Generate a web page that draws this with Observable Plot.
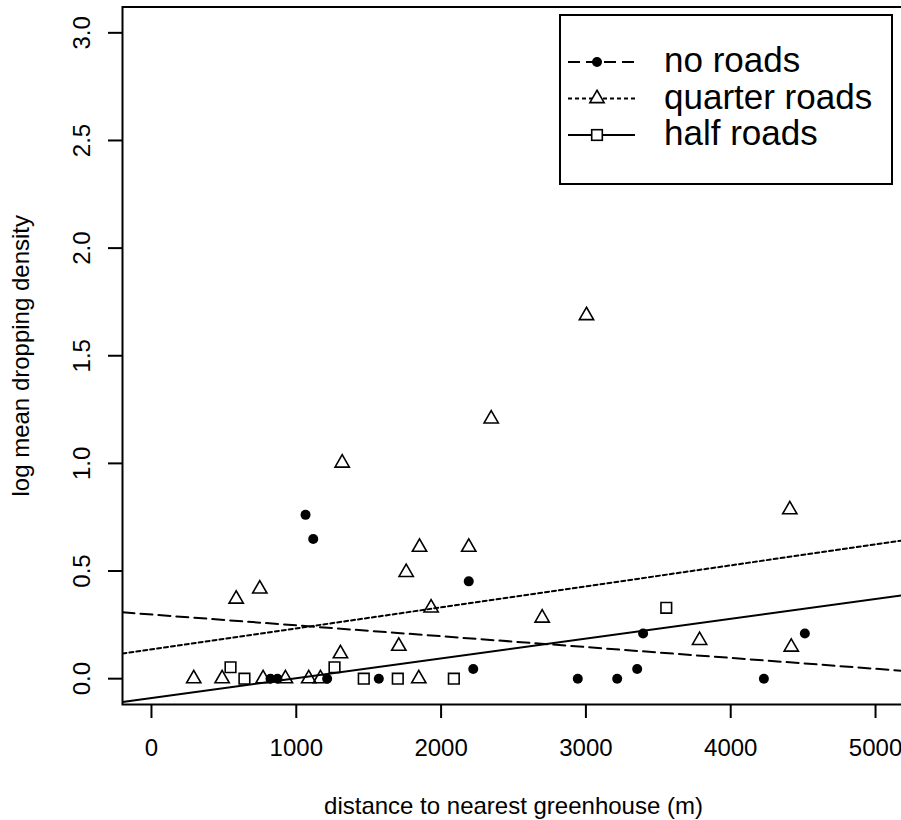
<!DOCTYPE html>
<html><head><meta charset="utf-8">
<script src="https://cdn.jsdelivr.net/npm/d3@7"></script>
<script src="https://cdn.jsdelivr.net/npm/@observablehq/plot@0.6"></script>
<style>
html,body{margin:0;padding:0;background:#fff;overflow:hidden;width:901px;height:820px;}
#wrap{position:relative;width:901px;height:820px;overflow:hidden;}
#wrap svg{max-width:none !important;}
#legend{position:absolute;left:0;top:0;pointer-events:none;}
</style></head><body><div id="wrap"></div>
<script>
// ---- data ----
const seriesNames = ["no roads", "quarter roads", "half roads"];

const noRoadsX = [822, 870, 1064, 1117, 1213, 1570, 2191, 2222, 2944, 3216, 3354, 3395, 4229, 4512];
const noRoadsY = [0, 0, 0.761, 0.649, 0, 0, 0.452, 0.045, 0, 0, 0.045, 0.21, 0, 0.21];

const quarterX = [292, 488, 585, 748, 771, 925, 1086, 1167, 1305, 1317, 1708, 1759, 1846, 1851, 1931, 2191, 2346, 2698, 3004, 3785, 4408, 4418];
const quarterY = [0, 0, 0.370, 0.417, 0, 0, 0, 0, 0.116, 1.002, 0.151, 0.494, 0, 0.611, 0.329, 0.611, 1.207, 0.282, 1.687, 0.178, 0.785, 0.147];

const halfX = [546, 642, 1264, 1466, 1701, 2088, 3555];
const halfY = [0.053, 0, 0.053, 0, 0, 0, 0.329];

// fitted straight lines (intercept, slope) for each series
const fitIntercepts = [0.298, 0.136, -0.09];
const fitSlopes = [-0.0000504, 0.0000976, 0.000092];

const xDomain = [-200, 5200];
const yDomain = [-0.12, 3.12];
const xTicks = [0, 1000, 2000, 3000, 4000, 5000];
const xTickLabels = ["0", "1000", "2000", "3000", "4000", "5000"];
const yTicks = [0, 0.5, 1, 1.5, 2, 2.5, 3];
const yTickLabels = ["0.0", "0.5", "1.0", "1.5", "2.0", "2.5", "3.0"];
const xTitle = "distance to nearest greenhouse (m)";
const yTitle = "log mean dropping density";

// ---- build tables ----
const noRoads = noRoadsX.map((x, i) => ({x, y: noRoadsY[i]}));
const quarter = quarterX.map((x, i) => ({x, y: quarterY[i]}));
const half = halfX.map((x, i) => ({x, y: halfY[i]}));
const fitRows = seriesNames.flatMap((s, i) => xDomain.map(x => ({series: s, x, y: fitIntercepts[i] + fitSlopes[i] * x})));
const dashes = {"no roads": "12,6", "quarter roads": "4,3", "half roads": null};

const FONT = "Liberation Sans, Arial, Helvetica, sans-serif";

const chart = Plot.plot({
  width: 906,
  height: 820,
  marginLeft: 122,
  marginRight: 2,
  marginTop: 6.5,
  marginBottom: 116,
  style: {fontFamily: FONT, fontSize: "24px", color: "#000", background: "#fff", maxWidth: "none"},
  x: {domain: xDomain},
  y: {domain: yDomain},
  marks: [
    ...seriesNames.map(s => Plot.line(fitRows.filter(d => d.series === s), {
      x: "x", y: "y", stroke: "#000", strokeWidth: 2,
      strokeDasharray: dashes[s] || undefined, clip: true
    })),
    Plot.dot(noRoads, {x: "x", y: "y", r: 5, fill: "#000", stroke: "none"}),
    Plot.dot(quarter, {x: "x", y: "y", r: 5.3, symbol: "triangle", fill: "none", stroke: "#000", strokeWidth: 1.6}),
    Plot.dot(half, {x: "x", y: "y", r: 6, symbol: "square", fill: "none", stroke: "#000", strokeWidth: 1.6}),
    Plot.frame({stroke: "#000", strokeWidth: 2}),
    Plot.axisX({
      ticks: xTicks, tickSize: 14, tickPadding: 20, strokeWidth: 2, fontSize: 24,
      tickFormat: d => xTickLabels[xTicks.indexOf(d)],
      label: xTitle, labelAnchor: "center", labelOffset: 109, labelArrow: "none"
    }),
    Plot.axisY({
      ticks: yTicks, tickSize: 14, tickPadding: 19, tickRotate: -90, strokeWidth: 2, fontSize: 24,
      tickFormat: d => yTickLabels[yTicks.indexOf(d)],
      label: yTitle, labelAnchor: "center", labelOffset: 111, labelArrow: "none"
    })
  ]
});
document.getElementById("wrap").appendChild(chart);

// ---- legend (top right box) ----
const lg = d3.select("#wrap").append("svg").attr("id", "legend")
  .attr("width", 901).attr("height", 200)
  .style("font-family", FONT);
lg.append("rect").attr("x", 560).attr("y", 15).attr("width", 332).attr("height", 169)
  .attr("fill", "#fff").attr("stroke", "#000").attr("stroke-width", 2);
const baselines = [72, 108.5, 145];
seriesNames.forEach((s, i) => {
  const cy = baselines[i] - 10;
  lg.append("line").attr("x1", 568).attr("x2", 635).attr("y1", cy).attr("y2", cy)
    .attr("stroke", "#000").attr("stroke-width", 2)
    .attr("stroke-dasharray", dashes[s] || null);
  if (i === 0) {
    lg.append("circle").attr("cx", 597).attr("cy", cy).attr("r", 5).attr("fill", "#000");
  } else if (i === 1) {
    const p = d3.symbol(d3.symbolTriangle, Math.PI * 5.3 * 5.3)();
    lg.append("path").attr("d", p).attr("transform", `translate(597,${cy})`)
      .attr("fill", "#fff").attr("stroke", "#000").attr("stroke-width", 1.6);
  } else {
    lg.append("rect").attr("x", 597 - 5.3).attr("y", cy - 5.3).attr("width", 10.6).attr("height", 10.6)
      .attr("fill", "#fff").attr("stroke", "#000").attr("stroke-width", 1.6);
  }
  lg.append("text").attr("x", 664).attr("y", baselines[i]).attr("font-size", 35)
    .attr("fill", "#000").text(s);
});
</script></body></html>
